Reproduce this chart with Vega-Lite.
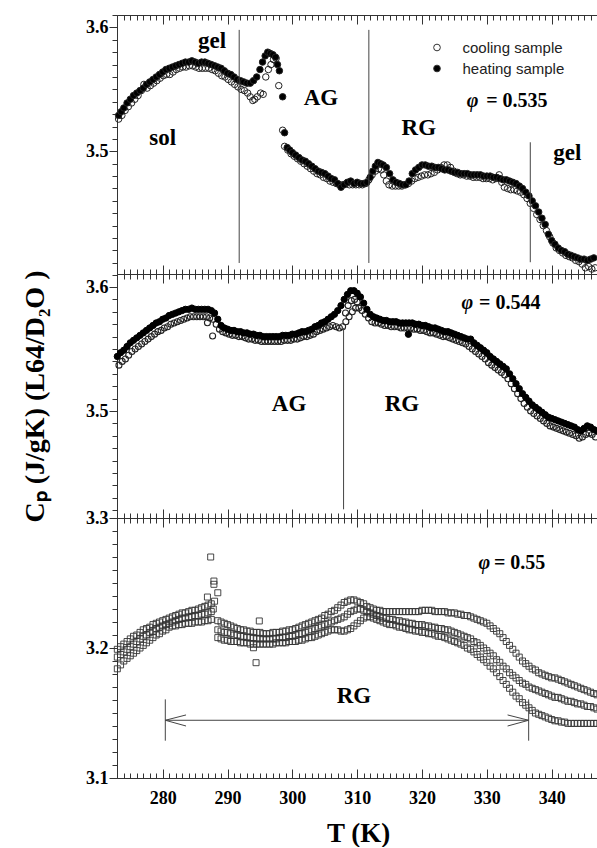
{
"$schema":"https://vega.github.io/schema/vega-lite/v6.json",
"background":"white",
"padding":{"left":20,"top":14,"right":0,"bottom":0},
"bounds":"flush",
"spacing":0,
"config":{"view":{"stroke":"#333","strokeWidth":1},"axis":{"domain":false,"grid":false,"tickColor":"#333","tickWidth":1,"labelFont":"Liberation Serif","labelFontWeight":"bold","labelFontSize":17,"labelColor":"black","titleFont":"Liberation Serif","titleFontWeight":"bold","titleColor":"black","labelOverlap":false,"labelFlush":false}},
"resolve":{"scale":{"fill":"independent"},"legend":{"fill":"independent"}},
"datasets":{
"top":[
{"s":"c","T":273.2,"v":3.526},{"s":"c","T":273.7,"v":3.529},{"s":"c","T":274.2,"v":3.533},{"s":"c","T":274.7,"v":3.536},{"s":"c","T":275.2,"v":3.539},{"s":"c","T":275.7,"v":3.542},{"s":"c","T":276.2,"v":3.545},{"s":"c","T":276.7,"v":3.549},{"s":"c","T":277.1,"v":3.554},{"s":"c","T":277.6,"v":3.551},{"s":"c","T":278.1,"v":3.553},{"s":"c","T":278.6,"v":3.555},{"s":"c","T":279.1,"v":3.557},{"s":"c","T":279.6,"v":3.559},{"s":"c","T":280.1,"v":3.561},{"s":"c","T":280.6,"v":3.562},{"s":"c","T":281.1,"v":3.562},{"s":"c","T":281.6,"v":3.564},{"s":"c","T":282.1,"v":3.566},{"s":"c","T":282.6,"v":3.567},{"s":"c","T":283.1,"v":3.568},{"s":"c","T":283.6,"v":3.568},{"s":"c","T":284.1,"v":3.569},{"s":"c","T":284.6,"v":3.569},{"s":"c","T":285.1,"v":3.568},{"s":"c","T":285.6,"v":3.567},{"s":"c","T":286.1,"v":3.567},{"s":"c","T":286.6,"v":3.567},{"s":"c","T":287.1,"v":3.567},{"s":"c","T":287.6,"v":3.566},{"s":"c","T":288.1,"v":3.565},{"s":"c","T":288.6,"v":3.563},{"s":"c","T":289.1,"v":3.561},{"s":"c","T":289.6,"v":3.56},{"s":"c","T":290.1,"v":3.558},{"s":"c","T":290.6,"v":3.556},{"s":"c","T":291.1,"v":3.554},{"s":"c","T":291.6,"v":3.552},{"s":"c","T":292.1,"v":3.55},{"s":"c","T":292.6,"v":3.549},{"s":"c","T":293.1,"v":3.547},{"s":"c","T":293.5,"v":3.544},{"s":"c","T":293.9,"v":3.541},{"s":"c","T":294.2,"v":3.542},{"s":"c","T":294.6,"v":3.544},{"s":"c","T":295.1,"v":3.547},{"s":"c","T":295.5,"v":3.546},{"s":"c","T":295.9,"v":3.56},{"s":"c","T":296.3,"v":3.566},{"s":"c","T":296.7,"v":3.57},{"s":"c","T":297.1,"v":3.574},{"s":"c","T":297.5,"v":3.575},{"s":"c","T":297.9,"v":3.553},{"s":"c","T":298.5,"v":3.517},{"s":"c","T":298.8,"v":3.504},{"s":"c","T":299.3,"v":3.501},{"s":"c","T":299.8,"v":3.498},{"s":"c","T":300.3,"v":3.496},{"s":"c","T":300.8,"v":3.494},{"s":"c","T":301.3,"v":3.492},{"s":"c","T":301.8,"v":3.49},{"s":"c","T":302.3,"v":3.488},{"s":"c","T":302.8,"v":3.486},{"s":"c","T":303.3,"v":3.484},{"s":"c","T":303.8,"v":3.482},{"s":"c","T":304.3,"v":3.481},{"s":"c","T":304.8,"v":3.479},{"s":"c","T":305.3,"v":3.478},{"s":"c","T":305.8,"v":3.476},{"s":"c","T":306.3,"v":3.475},{"s":"c","T":306.8,"v":3.474},{"s":"c","T":307.3,"v":3.473},{"s":"c","T":307.8,"v":3.473},{"s":"c","T":308.3,"v":3.474},{"s":"c","T":308.8,"v":3.473},{"s":"c","T":309.3,"v":3.473},{"s":"c","T":309.8,"v":3.473},{"s":"c","T":310.3,"v":3.473},{"s":"c","T":310.8,"v":3.473},{"s":"c","T":311.3,"v":3.474},{"s":"c","T":311.8,"v":3.477},{"s":"c","T":312.3,"v":3.481},{"s":"c","T":312.8,"v":3.484},{"s":"c","T":313.3,"v":3.486},{"s":"c","T":313.7,"v":3.485},{"s":"c","T":314.1,"v":3.481},{"s":"c","T":314.5,"v":3.476},{"s":"c","T":314.9,"v":3.473},{"s":"c","T":315.4,"v":3.472},{"s":"c","T":315.9,"v":3.472},{"s":"c","T":316.4,"v":3.472},{"s":"c","T":316.9,"v":3.472},{"s":"c","T":317.4,"v":3.473},{"s":"c","T":317.9,"v":3.474},{"s":"c","T":318.4,"v":3.476},{"s":"c","T":318.9,"v":3.478},{"s":"c","T":319.4,"v":3.479},{"s":"c","T":319.9,"v":3.48},{"s":"c","T":320.4,"v":3.481},{"s":"c","T":320.9,"v":3.481},{"s":"c","T":321.4,"v":3.482},{"s":"c","T":321.9,"v":3.483},{"s":"c","T":322.4,"v":3.485},{"s":"c","T":322.9,"v":3.487},{"s":"c","T":323.4,"v":3.489},{"s":"c","T":323.9,"v":3.489},{"s":"c","T":324.4,"v":3.487},{"s":"c","T":324.9,"v":3.484},{"s":"c","T":325.4,"v":3.482},{"s":"c","T":325.9,"v":3.481},{"s":"c","T":326.4,"v":3.481},{"s":"c","T":326.9,"v":3.48},{"s":"c","T":327.4,"v":3.48},{"s":"c","T":327.9,"v":3.479},{"s":"c","T":328.4,"v":3.479},{"s":"c","T":328.9,"v":3.479},{"s":"c","T":329.4,"v":3.478},{"s":"c","T":329.9,"v":3.478},{"s":"c","T":330.4,"v":3.478},{"s":"c","T":330.9,"v":3.477},{"s":"c","T":331.4,"v":3.478},{"s":"c","T":331.9,"v":3.481},{"s":"c","T":332.3,"v":3.475},{"s":"c","T":332.7,"v":3.471},{"s":"c","T":333.2,"v":3.47},{"s":"c","T":333.7,"v":3.469},{"s":"c","T":334.2,"v":3.469},{"s":"c","T":334.7,"v":3.468},{"s":"c","T":335.2,"v":3.467},{"s":"c","T":335.7,"v":3.465},{"s":"c","T":336.2,"v":3.462},{"s":"c","T":336.7,"v":3.458},{"s":"c","T":337.2,"v":3.454},{"s":"c","T":337.7,"v":3.449},{"s":"c","T":338.2,"v":3.445},{"s":"c","T":338.7,"v":3.44},{"s":"c","T":339.2,"v":3.436},{"s":"c","T":339.7,"v":3.431},{"s":"c","T":340.2,"v":3.426},{"s":"c","T":340.7,"v":3.422},{"s":"c","T":341.2,"v":3.42},{"s":"c","T":341.7,"v":3.418},{"s":"c","T":342.2,"v":3.416},{"s":"c","T":342.7,"v":3.415},{"s":"c","T":343.2,"v":3.414},{"s":"c","T":343.7,"v":3.412},{"s":"c","T":344.2,"v":3.411},{"s":"c","T":344.7,"v":3.409},{"s":"c","T":345.2,"v":3.406},{"s":"c","T":345.7,"v":3.407},{"s":"c","T":346.2,"v":3.405},{"s":"c","T":346.7,"v":3.406},
{"s":"h","T":273.2,"v":3.529},{"s":"h","T":273.6,"v":3.532},{"s":"h","T":274.0,"v":3.535},{"s":"h","T":274.5,"v":3.539},{"s":"h","T":275.0,"v":3.542},{"s":"h","T":275.5,"v":3.545},{"s":"h","T":276.0,"v":3.547},{"s":"h","T":276.5,"v":3.549},{"s":"h","T":277.0,"v":3.551},{"s":"h","T":277.5,"v":3.554},{"s":"h","T":278.0,"v":3.556},{"s":"h","T":278.5,"v":3.558},{"s":"h","T":279.0,"v":3.56},{"s":"h","T":279.5,"v":3.562},{"s":"h","T":280.0,"v":3.564},{"s":"h","T":280.5,"v":3.566},{"s":"h","T":281.0,"v":3.567},{"s":"h","T":281.5,"v":3.568},{"s":"h","T":282.0,"v":3.569},{"s":"h","T":282.5,"v":3.57},{"s":"h","T":283.0,"v":3.571},{"s":"h","T":283.5,"v":3.572},{"s":"h","T":284.0,"v":3.572},{"s":"h","T":284.5,"v":3.573},{"s":"h","T":285.0,"v":3.572},{"s":"h","T":285.5,"v":3.571},{"s":"h","T":286.0,"v":3.572},{"s":"h","T":286.5,"v":3.572},{"s":"h","T":287.0,"v":3.571},{"s":"h","T":287.5,"v":3.57},{"s":"h","T":288.0,"v":3.569},{"s":"h","T":288.5,"v":3.568},{"s":"h","T":289.0,"v":3.567},{"s":"h","T":289.5,"v":3.565},{"s":"h","T":290.0,"v":3.563},{"s":"h","T":290.5,"v":3.562},{"s":"h","T":291.0,"v":3.56},{"s":"h","T":291.5,"v":3.558},{"s":"h","T":292.0,"v":3.557},{"s":"h","T":292.5,"v":3.556},{"s":"h","T":293.0,"v":3.555},{"s":"h","T":293.5,"v":3.555},{"s":"h","T":294.0,"v":3.557},{"s":"h","T":294.5,"v":3.56},{"s":"h","T":295.0,"v":3.566},{"s":"h","T":295.4,"v":3.572},{"s":"h","T":295.8,"v":3.577},{"s":"h","T":296.2,"v":3.58},{"s":"h","T":296.6,"v":3.579},{"s":"h","T":297.0,"v":3.578},{"s":"h","T":297.4,"v":3.576},{"s":"h","T":297.7,"v":3.57},{"s":"h","T":298.0,"v":3.565},{"s":"h","T":298.5,"v":3.544},{"s":"h","T":298.8,"v":3.515},{"s":"h","T":299.2,"v":3.503},{"s":"h","T":299.6,"v":3.501},{"s":"h","T":300.0,"v":3.499},{"s":"h","T":300.5,"v":3.497},{"s":"h","T":301.0,"v":3.495},{"s":"h","T":301.5,"v":3.493},{"s":"h","T":302.0,"v":3.492},{"s":"h","T":302.5,"v":3.49},{"s":"h","T":303.0,"v":3.488},{"s":"h","T":303.5,"v":3.486},{"s":"h","T":304.0,"v":3.484},{"s":"h","T":304.5,"v":3.483},{"s":"h","T":305.0,"v":3.482},{"s":"h","T":305.5,"v":3.48},{"s":"h","T":306.0,"v":3.478},{"s":"h","T":306.5,"v":3.477},{"s":"h","T":307.0,"v":3.474},{"s":"h","T":307.5,"v":3.471},{"s":"h","T":308.0,"v":3.473},{"s":"h","T":308.5,"v":3.475},{"s":"h","T":309.0,"v":3.476},{"s":"h","T":309.5,"v":3.474},{"s":"h","T":310.0,"v":3.475},{"s":"h","T":310.5,"v":3.474},{"s":"h","T":311.0,"v":3.474},{"s":"h","T":311.5,"v":3.475},{"s":"h","T":312.0,"v":3.479},{"s":"h","T":312.4,"v":3.484},{"s":"h","T":312.8,"v":3.488},{"s":"h","T":313.2,"v":3.491},{"s":"h","T":313.6,"v":3.49},{"s":"h","T":314.0,"v":3.489},{"s":"h","T":314.5,"v":3.487},{"s":"h","T":315.0,"v":3.482},{"s":"h","T":315.5,"v":3.477},{"s":"h","T":316.0,"v":3.475},{"s":"h","T":316.5,"v":3.474},{"s":"h","T":317.0,"v":3.473},{"s":"h","T":317.5,"v":3.473},{"s":"h","T":318.0,"v":3.476},{"s":"h","T":318.5,"v":3.482},{"s":"h","T":319.0,"v":3.485},{"s":"h","T":319.5,"v":3.487},{"s":"h","T":320.0,"v":3.489},{"s":"h","T":320.5,"v":3.489},{"s":"h","T":321.0,"v":3.488},{"s":"h","T":321.5,"v":3.488},{"s":"h","T":322.0,"v":3.487},{"s":"h","T":322.5,"v":3.487},{"s":"h","T":323.0,"v":3.486},{"s":"h","T":323.5,"v":3.485},{"s":"h","T":324.0,"v":3.485},{"s":"h","T":324.5,"v":3.484},{"s":"h","T":325.0,"v":3.483},{"s":"h","T":325.5,"v":3.483},{"s":"h","T":326.0,"v":3.482},{"s":"h","T":326.5,"v":3.482},{"s":"h","T":327.0,"v":3.482},{"s":"h","T":327.5,"v":3.481},{"s":"h","T":328.0,"v":3.481},{"s":"h","T":328.5,"v":3.481},{"s":"h","T":329.0,"v":3.481},{"s":"h","T":329.5,"v":3.48},{"s":"h","T":330.0,"v":3.48},{"s":"h","T":330.5,"v":3.48},{"s":"h","T":331.0,"v":3.479},{"s":"h","T":331.5,"v":3.479},{"s":"h","T":332.0,"v":3.478},{"s":"h","T":332.5,"v":3.477},{"s":"h","T":333.0,"v":3.477},{"s":"h","T":333.5,"v":3.476},{"s":"h","T":334.0,"v":3.475},{"s":"h","T":334.5,"v":3.474},{"s":"h","T":335.0,"v":3.472},{"s":"h","T":335.5,"v":3.47},{"s":"h","T":336.0,"v":3.467},{"s":"h","T":336.5,"v":3.464},{"s":"h","T":337.0,"v":3.46},{"s":"h","T":337.5,"v":3.456},{"s":"h","T":338.0,"v":3.451},{"s":"h","T":338.5,"v":3.446},{"s":"h","T":339.0,"v":3.441},{"s":"h","T":339.5,"v":3.433},{"s":"h","T":340.0,"v":3.428},{"s":"h","T":340.5,"v":3.425},{"s":"h","T":341.0,"v":3.422},{"s":"h","T":341.5,"v":3.42},{"s":"h","T":342.0,"v":3.419},{"s":"h","T":342.5,"v":3.417},{"s":"h","T":343.0,"v":3.416},{"s":"h","T":343.5,"v":3.415},{"s":"h","T":344.0,"v":3.414},{"s":"h","T":344.5,"v":3.413},{"s":"h","T":345.0,"v":3.413},{"s":"h","T":345.5,"v":3.412},{"s":"h","T":346.0,"v":3.413},{"s":"h","T":346.5,"v":3.414}
],
"mid":[
{"s":"c","T":273.25,"v":3.537},{"s":"c","T":273.75,"v":3.54},{"s":"c","T":274.25,"v":3.542},{"s":"c","T":274.75,"v":3.545},{"s":"c","T":275.25,"v":3.548},{"s":"c","T":275.75,"v":3.55},{"s":"c","T":276.25,"v":3.552},{"s":"c","T":276.75,"v":3.554},{"s":"c","T":277.25,"v":3.556},{"s":"c","T":277.75,"v":3.558},{"s":"c","T":278.25,"v":3.56},{"s":"c","T":278.75,"v":3.562},{"s":"c","T":279.25,"v":3.564},{"s":"c","T":279.75,"v":3.565},{"s":"c","T":280.25,"v":3.567},{"s":"c","T":280.75,"v":3.568},{"s":"c","T":281.25,"v":3.57},{"s":"c","T":281.75,"v":3.571},{"s":"c","T":282.25,"v":3.572},{"s":"c","T":282.75,"v":3.573},{"s":"c","T":283.25,"v":3.574},{"s":"c","T":283.75,"v":3.575},{"s":"c","T":284.25,"v":3.576},{"s":"c","T":284.75,"v":3.576},{"s":"c","T":285.25,"v":3.576},{"s":"c","T":285.75,"v":3.576},{"s":"c","T":286.25,"v":3.576},{"s":"c","T":286.75,"v":3.576},{"s":"c","T":286.9,"v":3.5712},{"s":"c","T":287.25,"v":3.575},{"s":"c","T":287.7,"v":3.5605},{"s":"c","T":287.75,"v":3.574},{"s":"c","T":288.25,"v":3.57},{"s":"c","T":288.75,"v":3.566},{"s":"c","T":289.25,"v":3.564},{"s":"c","T":289.75,"v":3.563},{"s":"c","T":290.25,"v":3.562},{"s":"c","T":290.75,"v":3.561},{"s":"c","T":291.25,"v":3.561},{"s":"c","T":291.75,"v":3.56},{"s":"c","T":292.25,"v":3.56},{"s":"c","T":292.75,"v":3.559},{"s":"c","T":293.25,"v":3.558},{"s":"c","T":293.75,"v":3.558},{"s":"c","T":294.25,"v":3.557},{"s":"c","T":294.75,"v":3.557},{"s":"c","T":295.25,"v":3.556},{"s":"c","T":295.75,"v":3.556},{"s":"c","T":296.25,"v":3.556},{"s":"c","T":296.75,"v":3.556},{"s":"c","T":297.25,"v":3.556},{"s":"c","T":297.75,"v":3.556},{"s":"c","T":298.25,"v":3.556},{"s":"c","T":298.75,"v":3.557},{"s":"c","T":299.25,"v":3.557},{"s":"c","T":299.75,"v":3.557},{"s":"c","T":300.25,"v":3.558},{"s":"c","T":300.75,"v":3.558},{"s":"c","T":301.25,"v":3.559},{"s":"c","T":301.75,"v":3.56},{"s":"c","T":302.25,"v":3.56},{"s":"c","T":302.75,"v":3.561},{"s":"c","T":303.25,"v":3.562},{"s":"c","T":303.75,"v":3.564},{"s":"c","T":304.25,"v":3.565},{"s":"c","T":304.75,"v":3.566},{"s":"c","T":305.25,"v":3.567},{"s":"c","T":305.75,"v":3.568},{"s":"c","T":306.25,"v":3.569},{"s":"c","T":306.75,"v":3.568},{"s":"c","T":307.25,"v":3.567},{"s":"c","T":307.75,"v":3.568},{"s":"c","T":308.25,"v":3.572},{"s":"c","T":308.75,"v":3.576},{"s":"c","T":309.25,"v":3.58},{"s":"c","T":309.75,"v":3.583},{"s":"c","T":310.25,"v":3.583},{"s":"c","T":310.75,"v":3.581},{"s":"c","T":311.25,"v":3.578},{"s":"c","T":311.75,"v":3.575},{"s":"c","T":312.25,"v":3.572},{"s":"c","T":308.2,"v":3.579},{"s":"c","T":308.6,"v":3.585},{"s":"c","T":309.1,"v":3.589},{"s":"c","T":309.6,"v":3.59},{"s":"c","T":310.0,"v":3.588},{"s":"c","T":312.75,"v":3.571},{"s":"c","T":313.25,"v":3.571},{"s":"c","T":313.75,"v":3.57},{"s":"c","T":314.25,"v":3.569},{"s":"c","T":314.75,"v":3.569},{"s":"c","T":315.25,"v":3.568},{"s":"c","T":315.75,"v":3.568},{"s":"c","T":316.25,"v":3.568},{"s":"c","T":316.75,"v":3.567},{"s":"c","T":317.25,"v":3.567},{"s":"c","T":317.75,"v":3.567},{"s":"c","T":318.25,"v":3.567},{"s":"c","T":318.75,"v":3.566},{"s":"c","T":319.25,"v":3.566},{"s":"c","T":319.75,"v":3.565},{"s":"c","T":320.25,"v":3.565},{"s":"c","T":320.75,"v":3.564},{"s":"c","T":321.25,"v":3.563},{"s":"c","T":321.75,"v":3.563},{"s":"c","T":322.25,"v":3.562},{"s":"c","T":322.75,"v":3.561},{"s":"c","T":323.25,"v":3.56},{"s":"c","T":323.75,"v":3.56},{"s":"c","T":324.25,"v":3.559},{"s":"c","T":324.75,"v":3.558},{"s":"c","T":325.25,"v":3.557},{"s":"c","T":325.75,"v":3.556},{"s":"c","T":326.25,"v":3.555},{"s":"c","T":326.75,"v":3.554},{"s":"c","T":327.25,"v":3.552},{"s":"c","T":327.75,"v":3.55},{"s":"c","T":328.25,"v":3.548},{"s":"c","T":328.75,"v":3.546},{"s":"c","T":329.25,"v":3.544},{"s":"c","T":329.75,"v":3.542},{"s":"c","T":330.25,"v":3.539},{"s":"c","T":330.75,"v":3.537},{"s":"c","T":331.25,"v":3.535},{"s":"c","T":331.75,"v":3.533},{"s":"c","T":332.25,"v":3.531},{"s":"c","T":332.75,"v":3.529},{"s":"c","T":333.25,"v":3.526},{"s":"c","T":333.75,"v":3.522},{"s":"c","T":334.25,"v":3.518},{"s":"c","T":334.75,"v":3.514},{"s":"c","T":335.25,"v":3.51},{"s":"c","T":335.75,"v":3.506},{"s":"c","T":336.25,"v":3.503},{"s":"c","T":336.75,"v":3.5},{"s":"c","T":337.25,"v":3.498},{"s":"c","T":337.75,"v":3.496},{"s":"c","T":338.25,"v":3.494},{"s":"c","T":338.75,"v":3.492},{"s":"c","T":339.25,"v":3.49},{"s":"c","T":339.75,"v":3.488},{"s":"c","T":340.25,"v":3.487},{"s":"c","T":340.75,"v":3.486},{"s":"c","T":341.25,"v":3.485},{"s":"c","T":341.75,"v":3.484},{"s":"c","T":342.25,"v":3.483},{"s":"c","T":342.75,"v":3.482},{"s":"c","T":343.25,"v":3.481},{"s":"c","T":343.75,"v":3.48},{"s":"c","T":344.25,"v":3.478},{"s":"c","T":344.75,"v":3.479},{"s":"c","T":345.25,"v":3.481},{"s":"c","T":345.75,"v":3.482},{"s":"c","T":346.25,"v":3.481},{"s":"c","T":346.75,"v":3.479},
{"s":"h","T":273.0,"v":3.544},{"s":"h","T":273.5,"v":3.547},{"s":"h","T":274.0,"v":3.549},{"s":"h","T":274.5,"v":3.552},{"s":"h","T":275.0,"v":3.555},{"s":"h","T":275.5,"v":3.557},{"s":"h","T":276.0,"v":3.559},{"s":"h","T":276.5,"v":3.561},{"s":"h","T":277.0,"v":3.563},{"s":"h","T":277.5,"v":3.565},{"s":"h","T":278.0,"v":3.567},{"s":"h","T":278.5,"v":3.569},{"s":"h","T":279.0,"v":3.571},{"s":"h","T":279.5,"v":3.572},{"s":"h","T":280.0,"v":3.574},{"s":"h","T":280.5,"v":3.575},{"s":"h","T":281.0,"v":3.577},{"s":"h","T":281.5,"v":3.578},{"s":"h","T":282.0,"v":3.579},{"s":"h","T":282.5,"v":3.58},{"s":"h","T":283.0,"v":3.581},{"s":"h","T":283.5,"v":3.582},{"s":"h","T":284.0,"v":3.582},{"s":"h","T":284.5,"v":3.583},{"s":"h","T":285.0,"v":3.582},{"s":"h","T":285.5,"v":3.582},{"s":"h","T":286.0,"v":3.582},{"s":"h","T":286.5,"v":3.582},{"s":"h","T":287.0,"v":3.582},{"s":"h","T":287.5,"v":3.581},{"s":"h","T":288.0,"v":3.579},{"s":"h","T":288.5,"v":3.574},{"s":"h","T":289.0,"v":3.569},{"s":"h","T":289.5,"v":3.567},{"s":"h","T":290.0,"v":3.566},{"s":"h","T":290.5,"v":3.565},{"s":"h","T":291.0,"v":3.565},{"s":"h","T":291.5,"v":3.564},{"s":"h","T":292.0,"v":3.564},{"s":"h","T":292.5,"v":3.563},{"s":"h","T":293.0,"v":3.563},{"s":"h","T":293.5,"v":3.562},{"s":"h","T":294.0,"v":3.562},{"s":"h","T":294.5,"v":3.561},{"s":"h","T":295.0,"v":3.561},{"s":"h","T":295.5,"v":3.56},{"s":"h","T":296.0,"v":3.56},{"s":"h","T":296.5,"v":3.56},{"s":"h","T":297.0,"v":3.56},{"s":"h","T":297.5,"v":3.56},{"s":"h","T":298.0,"v":3.56},{"s":"h","T":298.5,"v":3.561},{"s":"h","T":299.0,"v":3.561},{"s":"h","T":299.5,"v":3.561},{"s":"h","T":300.0,"v":3.562},{"s":"h","T":300.5,"v":3.562},{"s":"h","T":301.0,"v":3.563},{"s":"h","T":301.5,"v":3.564},{"s":"h","T":302.0,"v":3.564},{"s":"h","T":302.5,"v":3.565},{"s":"h","T":303.0,"v":3.566},{"s":"h","T":303.5,"v":3.568},{"s":"h","T":304.0,"v":3.569},{"s":"h","T":304.5,"v":3.571},{"s":"h","T":305.0,"v":3.572},{"s":"h","T":305.5,"v":3.574},{"s":"h","T":306.0,"v":3.576},{"s":"h","T":306.5,"v":3.578},{"s":"h","T":307.0,"v":3.581},{"s":"h","T":307.5,"v":3.585},{"s":"h","T":308.0,"v":3.59},{"s":"h","T":308.5,"v":3.594},{"s":"h","T":309.0,"v":3.597},{"s":"h","T":309.5,"v":3.597},{"s":"h","T":310.0,"v":3.595},{"s":"h","T":310.5,"v":3.592},{"s":"h","T":311.0,"v":3.587},{"s":"h","T":311.5,"v":3.582},{"s":"h","T":312.0,"v":3.578},{"s":"h","T":312.5,"v":3.576},{"s":"h","T":313.0,"v":3.575},{"s":"h","T":313.5,"v":3.574},{"s":"h","T":314.0,"v":3.573},{"s":"h","T":314.5,"v":3.573},{"s":"h","T":315.0,"v":3.572},{"s":"h","T":315.5,"v":3.572},{"s":"h","T":316.0,"v":3.572},{"s":"h","T":316.5,"v":3.571},{"s":"h","T":317.0,"v":3.571},{"s":"h","T":317.5,"v":3.571},{"s":"h","T":317.9,"v":3.5619},{"s":"h","T":318.0,"v":3.571},{"s":"h","T":318.5,"v":3.571},{"s":"h","T":319.0,"v":3.57},{"s":"h","T":319.5,"v":3.57},{"s":"h","T":320.0,"v":3.569},{"s":"h","T":320.5,"v":3.569},{"s":"h","T":321.0,"v":3.568},{"s":"h","T":321.5,"v":3.567},{"s":"h","T":322.0,"v":3.567},{"s":"h","T":322.5,"v":3.566},{"s":"h","T":323.0,"v":3.565},{"s":"h","T":323.5,"v":3.564},{"s":"h","T":324.0,"v":3.564},{"s":"h","T":324.5,"v":3.563},{"s":"h","T":325.0,"v":3.562},{"s":"h","T":325.5,"v":3.561},{"s":"h","T":326.0,"v":3.56},{"s":"h","T":326.5,"v":3.559},{"s":"h","T":327.0,"v":3.558},{"s":"h","T":327.5,"v":3.558},{"s":"h","T":328.0,"v":3.555},{"s":"h","T":328.5,"v":3.553},{"s":"h","T":329.0,"v":3.551},{"s":"h","T":329.5,"v":3.549},{"s":"h","T":330.0,"v":3.547},{"s":"h","T":330.5,"v":3.544},{"s":"h","T":331.0,"v":3.542},{"s":"h","T":331.5,"v":3.54},{"s":"h","T":332.0,"v":3.538},{"s":"h","T":332.5,"v":3.536},{"s":"h","T":333.0,"v":3.534},{"s":"h","T":333.5,"v":3.53},{"s":"h","T":334.0,"v":3.526},{"s":"h","T":334.5,"v":3.522},{"s":"h","T":335.0,"v":3.518},{"s":"h","T":335.5,"v":3.514},{"s":"h","T":336.0,"v":3.511},{"s":"h","T":336.5,"v":3.508},{"s":"h","T":337.0,"v":3.505},{"s":"h","T":337.5,"v":3.503},{"s":"h","T":338.0,"v":3.501},{"s":"h","T":338.5,"v":3.499},{"s":"h","T":339.0,"v":3.497},{"s":"h","T":339.5,"v":3.495},{"s":"h","T":340.0,"v":3.494},{"s":"h","T":340.5,"v":3.493},{"s":"h","T":341.0,"v":3.492},{"s":"h","T":341.5,"v":3.491},{"s":"h","T":342.0,"v":3.49},{"s":"h","T":342.5,"v":3.489},{"s":"h","T":343.0,"v":3.488},{"s":"h","T":343.5,"v":3.487},{"s":"h","T":344.0,"v":3.485},{"s":"h","T":344.5,"v":3.484},{"s":"h","T":345.0,"v":3.486},{"s":"h","T":345.5,"v":3.488},{"s":"h","T":346.0,"v":3.487},{"s":"h","T":346.5,"v":3.485},{"s":"h","T":347.0,"v":3.484}
],
"bot":[
{"r":"A","T":273.0,"v":3.199},{"r":"A","T":273.5,"v":3.201},{"r":"A","T":274.0,"v":3.203},{"r":"A","T":274.5,"v":3.205},{"r":"A","T":275.0,"v":3.207},{"r":"A","T":275.5,"v":3.209},{"r":"A","T":276.0,"v":3.21},{"r":"A","T":276.5,"v":3.212},{"r":"A","T":277.0,"v":3.214},{"r":"A","T":277.5,"v":3.215},{"r":"A","T":278.0,"v":3.216},{"r":"A","T":278.5,"v":3.218},{"r":"A","T":279.0,"v":3.219},{"r":"A","T":279.5,"v":3.22},{"r":"A","T":280.0,"v":3.221},{"r":"A","T":280.5,"v":3.222},{"r":"A","T":281.0,"v":3.223},{"r":"A","T":281.5,"v":3.224},{"r":"A","T":282.0,"v":3.225},{"r":"A","T":282.5,"v":3.226},{"r":"A","T":283.0,"v":3.227},{"r":"A","T":283.5,"v":3.227},{"r":"A","T":284.0,"v":3.228},{"r":"A","T":284.5,"v":3.229},{"r":"A","T":285.0,"v":3.229},{"r":"A","T":285.5,"v":3.23},{"r":"A","T":286.0,"v":3.231},{"r":"A","T":286.5,"v":3.232},{"r":"A","T":287.0,"v":3.233},{"r":"A","T":287.5,"v":3.234},{"r":"A","T":288.5,"v":3.221},{"r":"A","T":289.0,"v":3.22},{"r":"A","T":289.5,"v":3.219},{"r":"A","T":290.0,"v":3.218},{"r":"A","T":290.5,"v":3.217},{"r":"A","T":291.0,"v":3.216},{"r":"A","T":291.5,"v":3.215},{"r":"A","T":292.0,"v":3.214},{"r":"A","T":292.5,"v":3.214},{"r":"A","T":293.0,"v":3.213},{"r":"A","T":293.5,"v":3.213},{"r":"A","T":294.0,"v":3.212},{"r":"A","T":294.5,"v":3.212},{"r":"A","T":295.0,"v":3.212},{"r":"A","T":295.5,"v":3.211},{"r":"A","T":296.0,"v":3.211},{"r":"A","T":296.5,"v":3.211},{"r":"A","T":297.0,"v":3.212},{"r":"A","T":297.5,"v":3.212},{"r":"A","T":298.0,"v":3.212},{"r":"A","T":298.5,"v":3.213},{"r":"A","T":299.0,"v":3.213},{"r":"A","T":299.5,"v":3.214},{"r":"A","T":300.0,"v":3.214},{"r":"A","T":300.5,"v":3.215},{"r":"A","T":301.0,"v":3.216},{"r":"A","T":301.5,"v":3.217},{"r":"A","T":302.0,"v":3.218},{"r":"A","T":302.5,"v":3.219},{"r":"A","T":303.0,"v":3.22},{"r":"A","T":303.5,"v":3.221},{"r":"A","T":304.0,"v":3.222},{"r":"A","T":304.5,"v":3.223},{"r":"A","T":305.0,"v":3.225},{"r":"A","T":305.5,"v":3.226},{"r":"A","T":306.0,"v":3.228},{"r":"A","T":306.5,"v":3.229},{"r":"A","T":307.0,"v":3.231},{"r":"A","T":307.5,"v":3.233},{"r":"A","T":308.0,"v":3.235},{"r":"A","T":308.5,"v":3.236},{"r":"A","T":309.0,"v":3.237},{"r":"A","T":309.5,"v":3.237},{"r":"A","T":310.0,"v":3.236},{"r":"A","T":310.5,"v":3.235},{"r":"A","T":311.0,"v":3.234},{"r":"A","T":311.5,"v":3.232},{"r":"A","T":312.0,"v":3.231},{"r":"A","T":312.5,"v":3.23},{"r":"A","T":313.0,"v":3.229},{"r":"A","T":313.5,"v":3.229},{"r":"A","T":314.0,"v":3.228},{"r":"A","T":314.5,"v":3.228},{"r":"A","T":315.0,"v":3.228},{"r":"A","T":315.5,"v":3.228},{"r":"A","T":316.0,"v":3.228},{"r":"A","T":316.5,"v":3.228},{"r":"A","T":317.0,"v":3.228},{"r":"A","T":317.5,"v":3.228},{"r":"A","T":318.0,"v":3.228},{"r":"A","T":318.5,"v":3.228},{"r":"A","T":319.0,"v":3.228},{"r":"A","T":319.5,"v":3.228},{"r":"A","T":320.0,"v":3.229},{"r":"A","T":320.5,"v":3.229},{"r":"A","T":321.0,"v":3.229},{"r":"A","T":321.5,"v":3.229},{"r":"A","T":322.0,"v":3.228},{"r":"A","T":322.5,"v":3.228},{"r":"A","T":323.0,"v":3.228},{"r":"A","T":323.5,"v":3.228},{"r":"A","T":324.0,"v":3.227},{"r":"A","T":324.5,"v":3.227},{"r":"A","T":325.0,"v":3.227},{"r":"A","T":325.5,"v":3.226},{"r":"A","T":326.0,"v":3.226},{"r":"A","T":326.5,"v":3.225},{"r":"A","T":327.0,"v":3.225},{"r":"A","T":327.5,"v":3.224},{"r":"A","T":328.0,"v":3.223},{"r":"A","T":328.5,"v":3.222},{"r":"A","T":329.0,"v":3.221},{"r":"A","T":329.5,"v":3.22},{"r":"A","T":330.0,"v":3.219},{"r":"A","T":330.5,"v":3.217},{"r":"A","T":331.0,"v":3.215},{"r":"A","T":331.5,"v":3.213},{"r":"A","T":332.0,"v":3.211},{"r":"A","T":332.5,"v":3.208},{"r":"A","T":333.0,"v":3.205},{"r":"A","T":333.5,"v":3.202},{"r":"A","T":334.0,"v":3.199},{"r":"A","T":334.5,"v":3.196},{"r":"A","T":335.0,"v":3.193},{"r":"A","T":335.5,"v":3.19},{"r":"A","T":336.0,"v":3.188},{"r":"A","T":336.5,"v":3.186},{"r":"A","T":337.0,"v":3.184},{"r":"A","T":337.5,"v":3.183},{"r":"A","T":338.0,"v":3.181},{"r":"A","T":338.5,"v":3.18},{"r":"A","T":339.0,"v":3.179},{"r":"A","T":339.5,"v":3.178},{"r":"A","T":340.0,"v":3.177},{"r":"A","T":340.5,"v":3.177},{"r":"A","T":341.0,"v":3.176},{"r":"A","T":341.5,"v":3.175},{"r":"A","T":342.0,"v":3.174},{"r":"A","T":342.5,"v":3.173},{"r":"A","T":343.0,"v":3.172},{"r":"A","T":343.5,"v":3.171},{"r":"A","T":344.0,"v":3.17},{"r":"A","T":344.5,"v":3.169},{"r":"A","T":345.0,"v":3.168},{"r":"A","T":345.5,"v":3.167},{"r":"A","T":346.0,"v":3.166},{"r":"A","T":346.5,"v":3.165},{"r":"A","T":347.0,"v":3.164},
{"r":"B","T":273.0,"v":3.193},{"r":"B","T":273.5,"v":3.195},{"r":"B","T":274.0,"v":3.197},{"r":"B","T":274.5,"v":3.199},{"r":"B","T":275.0,"v":3.201},{"r":"B","T":275.5,"v":3.203},{"r":"B","T":276.0,"v":3.205},{"r":"B","T":276.5,"v":3.207},{"r":"B","T":277.0,"v":3.209},{"r":"B","T":277.5,"v":3.21},{"r":"B","T":278.0,"v":3.212},{"r":"B","T":278.5,"v":3.213},{"r":"B","T":279.0,"v":3.215},{"r":"B","T":279.5,"v":3.216},{"r":"B","T":280.0,"v":3.217},{"r":"B","T":280.5,"v":3.218},{"r":"B","T":281.0,"v":3.219},{"r":"B","T":281.5,"v":3.22},{"r":"B","T":282.0,"v":3.221},{"r":"B","T":282.5,"v":3.222},{"r":"B","T":283.0,"v":3.223},{"r":"B","T":283.5,"v":3.223},{"r":"B","T":284.0,"v":3.224},{"r":"B","T":284.5,"v":3.224},{"r":"B","T":285.0,"v":3.225},{"r":"B","T":285.5,"v":3.225},{"r":"B","T":286.0,"v":3.226},{"r":"B","T":286.5,"v":3.226},{"r":"B","T":287.0,"v":3.227},{"r":"B","T":287.5,"v":3.228},{"r":"B","T":288.5,"v":3.214},{"r":"B","T":289.0,"v":3.213},{"r":"B","T":289.5,"v":3.212},{"r":"B","T":290.0,"v":3.212},{"r":"B","T":290.5,"v":3.211},{"r":"B","T":291.0,"v":3.21},{"r":"B","T":291.5,"v":3.21},{"r":"B","T":292.0,"v":3.209},{"r":"B","T":292.5,"v":3.209},{"r":"B","T":293.0,"v":3.208},{"r":"B","T":293.5,"v":3.208},{"r":"B","T":294.0,"v":3.208},{"r":"B","T":294.5,"v":3.207},{"r":"B","T":295.0,"v":3.207},{"r":"B","T":295.5,"v":3.207},{"r":"B","T":296.0,"v":3.207},{"r":"B","T":296.5,"v":3.207},{"r":"B","T":297.0,"v":3.207},{"r":"B","T":297.5,"v":3.207},{"r":"B","T":298.0,"v":3.208},{"r":"B","T":298.5,"v":3.208},{"r":"B","T":299.0,"v":3.208},{"r":"B","T":299.5,"v":3.209},{"r":"B","T":300.0,"v":3.209},{"r":"B","T":300.5,"v":3.21},{"r":"B","T":301.0,"v":3.211},{"r":"B","T":301.5,"v":3.211},{"r":"B","T":302.0,"v":3.212},{"r":"B","T":302.5,"v":3.213},{"r":"B","T":303.0,"v":3.214},{"r":"B","T":303.5,"v":3.215},{"r":"B","T":304.0,"v":3.216},{"r":"B","T":304.5,"v":3.217},{"r":"B","T":305.0,"v":3.218},{"r":"B","T":305.5,"v":3.219},{"r":"B","T":306.0,"v":3.22},{"r":"B","T":306.5,"v":3.221},{"r":"B","T":307.0,"v":3.222},{"r":"B","T":307.5,"v":3.223},{"r":"B","T":308.0,"v":3.224},{"r":"B","T":308.5,"v":3.226},{"r":"B","T":309.0,"v":3.228},{"r":"B","T":309.5,"v":3.229},{"r":"B","T":310.0,"v":3.23},{"r":"B","T":310.5,"v":3.23},{"r":"B","T":311.0,"v":3.229},{"r":"B","T":311.5,"v":3.228},{"r":"B","T":312.0,"v":3.227},{"r":"B","T":312.5,"v":3.226},{"r":"B","T":313.0,"v":3.225},{"r":"B","T":313.5,"v":3.224},{"r":"B","T":314.0,"v":3.223},{"r":"B","T":314.5,"v":3.223},{"r":"B","T":315.0,"v":3.222},{"r":"B","T":315.5,"v":3.222},{"r":"B","T":316.0,"v":3.221},{"r":"B","T":316.5,"v":3.221},{"r":"B","T":317.0,"v":3.22},{"r":"B","T":317.5,"v":3.22},{"r":"B","T":318.0,"v":3.219},{"r":"B","T":318.5,"v":3.219},{"r":"B","T":319.0,"v":3.218},{"r":"B","T":319.5,"v":3.218},{"r":"B","T":320.0,"v":3.218},{"r":"B","T":320.5,"v":3.217},{"r":"B","T":321.0,"v":3.217},{"r":"B","T":321.5,"v":3.216},{"r":"B","T":322.0,"v":3.216},{"r":"B","T":322.5,"v":3.215},{"r":"B","T":323.0,"v":3.215},{"r":"B","T":323.5,"v":3.214},{"r":"B","T":324.0,"v":3.214},{"r":"B","T":324.5,"v":3.213},{"r":"B","T":325.0,"v":3.212},{"r":"B","T":325.5,"v":3.211},{"r":"B","T":326.0,"v":3.21},{"r":"B","T":326.5,"v":3.209},{"r":"B","T":327.0,"v":3.208},{"r":"B","T":327.5,"v":3.207},{"r":"B","T":328.0,"v":3.205},{"r":"B","T":328.5,"v":3.204},{"r":"B","T":329.0,"v":3.202},{"r":"B","T":329.5,"v":3.2},{"r":"B","T":330.0,"v":3.198},{"r":"B","T":330.5,"v":3.196},{"r":"B","T":331.0,"v":3.194},{"r":"B","T":331.5,"v":3.191},{"r":"B","T":332.0,"v":3.189},{"r":"B","T":332.5,"v":3.186},{"r":"B","T":333.0,"v":3.184},{"r":"B","T":333.5,"v":3.181},{"r":"B","T":334.0,"v":3.179},{"r":"B","T":334.5,"v":3.177},{"r":"B","T":335.0,"v":3.175},{"r":"B","T":335.5,"v":3.173},{"r":"B","T":336.0,"v":3.172},{"r":"B","T":336.5,"v":3.17},{"r":"B","T":337.0,"v":3.169},{"r":"B","T":337.5,"v":3.168},{"r":"B","T":338.0,"v":3.167},{"r":"B","T":338.5,"v":3.166},{"r":"B","T":339.0,"v":3.165},{"r":"B","T":339.5,"v":3.164},{"r":"B","T":340.0,"v":3.163},{"r":"B","T":340.5,"v":3.162},{"r":"B","T":341.0,"v":3.162},{"r":"B","T":341.5,"v":3.161},{"r":"B","T":342.0,"v":3.16},{"r":"B","T":342.5,"v":3.159},{"r":"B","T":343.0,"v":3.159},{"r":"B","T":343.5,"v":3.158},{"r":"B","T":344.0,"v":3.157},{"r":"B","T":344.5,"v":3.157},{"r":"B","T":345.0,"v":3.156},{"r":"B","T":345.5,"v":3.155},{"r":"B","T":346.0,"v":3.155},{"r":"B","T":346.5,"v":3.154},{"r":"B","T":347.0,"v":3.153},
{"r":"C","T":273.0,"v":3.184},{"r":"C","T":273.5,"v":3.187},{"r":"C","T":274.0,"v":3.19},{"r":"C","T":274.5,"v":3.192},{"r":"C","T":275.0,"v":3.194},{"r":"C","T":275.5,"v":3.196},{"r":"C","T":276.0,"v":3.198},{"r":"C","T":276.5,"v":3.2},{"r":"C","T":277.0,"v":3.202},{"r":"C","T":277.5,"v":3.204},{"r":"C","T":278.0,"v":3.206},{"r":"C","T":278.5,"v":3.208},{"r":"C","T":279.0,"v":3.21},{"r":"C","T":279.5,"v":3.211},{"r":"C","T":280.0,"v":3.213},{"r":"C","T":280.5,"v":3.214},{"r":"C","T":281.0,"v":3.216},{"r":"C","T":281.5,"v":3.217},{"r":"C","T":282.0,"v":3.217},{"r":"C","T":282.5,"v":3.218},{"r":"C","T":283.0,"v":3.218},{"r":"C","T":283.5,"v":3.219},{"r":"C","T":284.0,"v":3.219},{"r":"C","T":284.5,"v":3.219},{"r":"C","T":285.0,"v":3.22},{"r":"C","T":285.5,"v":3.22},{"r":"C","T":286.0,"v":3.22},{"r":"C","T":286.5,"v":3.221},{"r":"C","T":287.0,"v":3.221},{"r":"C","T":287.5,"v":3.222},{"r":"C","T":288.5,"v":3.208},{"r":"C","T":289.0,"v":3.207},{"r":"C","T":289.5,"v":3.206},{"r":"C","T":290.0,"v":3.206},{"r":"C","T":290.5,"v":3.205},{"r":"C","T":291.0,"v":3.205},{"r":"C","T":291.5,"v":3.205},{"r":"C","T":292.0,"v":3.204},{"r":"C","T":292.5,"v":3.204},{"r":"C","T":293.0,"v":3.204},{"r":"C","T":293.5,"v":3.203},{"r":"C","T":294.0,"v":3.203},{"r":"C","T":294.5,"v":3.203},{"r":"C","T":295.0,"v":3.203},{"r":"C","T":295.5,"v":3.203},{"r":"C","T":296.0,"v":3.203},{"r":"C","T":296.5,"v":3.203},{"r":"C","T":297.0,"v":3.203},{"r":"C","T":297.5,"v":3.204},{"r":"C","T":298.0,"v":3.204},{"r":"C","T":298.5,"v":3.204},{"r":"C","T":299.0,"v":3.204},{"r":"C","T":299.5,"v":3.205},{"r":"C","T":300.0,"v":3.205},{"r":"C","T":300.5,"v":3.205},{"r":"C","T":301.0,"v":3.206},{"r":"C","T":301.5,"v":3.206},{"r":"C","T":302.0,"v":3.207},{"r":"C","T":302.5,"v":3.208},{"r":"C","T":303.0,"v":3.208},{"r":"C","T":303.5,"v":3.209},{"r":"C","T":304.0,"v":3.21},{"r":"C","T":304.5,"v":3.211},{"r":"C","T":305.0,"v":3.212},{"r":"C","T":305.5,"v":3.213},{"r":"C","T":306.0,"v":3.214},{"r":"C","T":306.5,"v":3.214},{"r":"C","T":307.0,"v":3.214},{"r":"C","T":307.5,"v":3.213},{"r":"C","T":308.0,"v":3.213},{"r":"C","T":308.5,"v":3.214},{"r":"C","T":309.0,"v":3.215},{"r":"C","T":309.5,"v":3.217},{"r":"C","T":310.0,"v":3.219},{"r":"C","T":310.5,"v":3.221},{"r":"C","T":311.0,"v":3.223},{"r":"C","T":311.5,"v":3.224},{"r":"C","T":312.0,"v":3.224},{"r":"C","T":312.5,"v":3.223},{"r":"C","T":313.0,"v":3.222},{"r":"C","T":313.5,"v":3.221},{"r":"C","T":314.0,"v":3.22},{"r":"C","T":314.5,"v":3.219},{"r":"C","T":315.0,"v":3.218},{"r":"C","T":315.5,"v":3.218},{"r":"C","T":316.0,"v":3.217},{"r":"C","T":316.5,"v":3.216},{"r":"C","T":317.0,"v":3.216},{"r":"C","T":317.5,"v":3.215},{"r":"C","T":318.0,"v":3.214},{"r":"C","T":318.5,"v":3.214},{"r":"C","T":319.0,"v":3.213},{"r":"C","T":319.5,"v":3.213},{"r":"C","T":320.0,"v":3.212},{"r":"C","T":320.5,"v":3.212},{"r":"C","T":321.0,"v":3.211},{"r":"C","T":321.5,"v":3.211},{"r":"C","T":322.0,"v":3.21},{"r":"C","T":322.5,"v":3.209},{"r":"C","T":323.0,"v":3.209},{"r":"C","T":323.5,"v":3.208},{"r":"C","T":324.0,"v":3.207},{"r":"C","T":324.5,"v":3.206},{"r":"C","T":325.0,"v":3.205},{"r":"C","T":325.5,"v":3.204},{"r":"C","T":326.0,"v":3.203},{"r":"C","T":326.5,"v":3.202},{"r":"C","T":327.0,"v":3.2},{"r":"C","T":327.5,"v":3.199},{"r":"C","T":328.0,"v":3.197},{"r":"C","T":328.5,"v":3.195},{"r":"C","T":329.0,"v":3.193},{"r":"C","T":329.5,"v":3.191},{"r":"C","T":330.0,"v":3.189},{"r":"C","T":330.5,"v":3.186},{"r":"C","T":331.0,"v":3.184},{"r":"C","T":331.5,"v":3.181},{"r":"C","T":332.0,"v":3.178},{"r":"C","T":332.5,"v":3.175},{"r":"C","T":333.0,"v":3.172},{"r":"C","T":333.5,"v":3.169},{"r":"C","T":334.0,"v":3.166},{"r":"C","T":334.5,"v":3.163},{"r":"C","T":335.0,"v":3.161},{"r":"C","T":335.5,"v":3.158},{"r":"C","T":336.0,"v":3.156},{"r":"C","T":336.5,"v":3.154},{"r":"C","T":337.0,"v":3.152},{"r":"C","T":337.5,"v":3.15},{"r":"C","T":338.0,"v":3.149},{"r":"C","T":338.5,"v":3.148},{"r":"C","T":339.0,"v":3.147},{"r":"C","T":339.5,"v":3.146},{"r":"C","T":340.0,"v":3.145},{"r":"C","T":340.5,"v":3.144},{"r":"C","T":341.0,"v":3.144},{"r":"C","T":341.5,"v":3.143},{"r":"C","T":342.0,"v":3.143},{"r":"C","T":342.5,"v":3.142},{"r":"C","T":343.0,"v":3.142},{"r":"C","T":343.5,"v":3.142},{"r":"C","T":344.0,"v":3.142},{"r":"C","T":344.5,"v":3.142},{"r":"C","T":345.0,"v":3.142},{"r":"C","T":345.5,"v":3.142},{"r":"C","T":346.0,"v":3.142},{"r":"C","T":346.5,"v":3.142},{"r":"C","T":347.0,"v":3.142},
{"r":"x","T":287.4,"v":3.27},{"r":"x","T":287.9,"v":3.2515},{"r":"x","T":287.9,"v":3.249},{"r":"x","T":288.5,"v":3.2425},{"r":"x","T":286.9,"v":3.2392},{"r":"x","T":288.0,"v":3.236},{"r":"x","T":287.8,"v":3.23},{"r":"x","T":294.9,"v":3.2208},{"r":"x","T":294.4,"v":3.1887},{"r":"x","T":294.0,"v":3.2002}
],
"lab":[
{"p":"top","k":"r","T":287.6,"v":3.589,"t":"gel"},{"p":"top","k":"r","T":280.0,"v":3.5105,"t":"sol"},{"p":"top","k":"r","T":304.4,"v":3.543,"t":"AG"},{"p":"top","k":"r","T":319.5,"v":3.5185,"t":"RG"},{"p":"top","k":"r","T":342.4,"v":3.499,"t":"gel"},{"p":"top","k":"phi","T":327.8,"v":3.5403,"t":"φ"},{"p":"top","k":"eq","T":329.9,"v":3.5403,"t":"= 0.535"},
{"p":"mid","k":"r","T":299.5,"v":3.506,"t":"AG"},{"p":"mid","k":"r","T":316.9,"v":3.5056,"t":"RG"},{"p":"mid","k":"phi","T":327.0,"v":3.5873,"t":"φ"},{"p":"mid","k":"eq","T":328.8,"v":3.5873,"t":"= 0.544"},
{"p":"bot","k":"r","T":309.5,"v":3.1633,"t":"RG"},{"p":"bot","k":"phi","T":329.6,"v":3.2656,"t":"φ"},{"p":"bot","k":"eq","T":331.1,"v":3.2656,"t":"= 0.55"}
],
"rules":[
{"p":"top","T":291.8,"T2":291.8,"v":3.4099,"v2":3.598},{"p":"top","T":311.8,"T2":311.8,"v":3.4099,"v2":3.598},{"p":"top","T":336.7,"T2":336.7,"v":3.4105,"v2":3.5073},
{"p":"mid","T":307.9,"T2":307.9,"v":3.4207,"v2":3.567},
{"p":"bot","T":280.4,"T2":336.45,"v":3.1444,"v2":3.1444},{"p":"bot","T":280.4,"T2":280.4,"v":3.1287,"v2":3.1605},{"p":"bot","T":336.45,"T2":336.45,"v":3.1287,"v2":3.1605},{"p":"bot","T":280.4,"T2":283.6,"v":3.1444,"v2":3.1485},{"p":"bot","T":280.4,"T2":283.6,"v":3.1444,"v2":3.14},{"p":"bot","T":336.45,"T2":333.2,"v":3.1444,"v2":3.1485},{"p":"bot","T":336.45,"T2":333.2,"v":3.1444,"v2":3.14}
]
},
"vconcat":[
{
"width":482,"height":259,
"resolve":{"axis":{"y":"independent"}},
"layer":[
{"data":{"name":"top"},
 "mark":{"type":"point","shape":"circle","filled":true,"size":42,"stroke":"#222","strokeWidth":1,"opacity":1},
 "encoding":{
  "x":{"field":"T","type":"quantitative","scale":{"domain":[272.95,347.3],"nice":false,"zero":false},"axis":{"orient":"bottom","tickCount":75,"labels":false,"title":null,"tickSize":{"condition":{"test":"datum.value % 10 === 0","value":-9},"value":-5}}},
  "y":{"field":"v","type":"quantitative","scale":{"domain":[3.401,3.61],"nice":false,"zero":false},"axis":{"orient":"left","tickCount":21,"title":null,"labels":false,"tickSize":5}},
  "fill":{"field":"s","type":"nominal","scale":{"domain":["c","h"],"range":["transparent","black"]},"legend":{"orient":"none","legendX":312.5,"legendY":25,"title":null,"padding":0,"labelExpr":"datum.label == 'c' ? 'cooling sample' : 'heating sample'","labelFont":"Liberation Sans","labelFontSize":15,"labelColor":"#222","symbolType":"circle","symbolSize":45,"symbolStrokeColor":"#333","symbolStrokeWidth":1,"labelOffset":18,"rowPadding":5}}
 }},
{"data":{"name":"lab"},"transform":[{"filter":"datum.p=='top' && datum.k=='r'"}],
 "mark":{"type":"text","font":"Liberation Serif","fontWeight":"bold","fontSize":23,"align":"center","baseline":"middle","color":"black"},
 "encoding":{
  "x":{"field":"T","type":"quantitative","scale":{"domain":[272.95,347.3],"nice":false,"zero":false},"axis":{"orient":"top","tickCount":75,"labels":false,"title":null,"tickSize":{"condition":{"test":"datum.value % 10 === 0","value":-9},"value":-5}}},
  "y":{"field":"v","type":"quantitative","scale":{"domain":[3.401,3.61],"nice":false,"zero":false},"axis":{"orient":"left","values":[3.5,3.6],"format":".1f","title":null,"tickSize":8,"labelPadding":1,"labelFontSize":18}},
  "text":{"field":"t"}}},
{"data":{"name":"lab"},"transform":[{"filter":"datum.p=='top' && datum.k=='phi'"}],
 "mark":{"type":"text","font":"Liberation Serif","fontWeight":"bold","fontStyle":"italic","fontSize":20,"align":"center","baseline":"middle","color":"black"},
 "encoding":{"x":{"field":"T","type":"quantitative","axis":null},"y":{"field":"v","type":"quantitative","axis":null},"text":{"field":"t"}}},
{"data":{"name":"lab"},"transform":[{"filter":"datum.p=='top' && datum.k=='eq'"}],
 "mark":{"type":"text","font":"Liberation Serif","fontWeight":"bold","fontSize":20,"align":"left","baseline":"middle","color":"black"},
 "encoding":{"x":{"field":"T","type":"quantitative","axis":null},"y":{"field":"v","type":"quantitative","axis":null},"text":{"field":"t"}}},
{"data":{"name":"rules"},"transform":[{"filter":"datum.p=='top'"}],
 "mark":{"type":"rule","color":"#444","strokeWidth":1},
 "encoding":{"x":{"field":"T","type":"quantitative","axis":null},"x2":{"field":"T2"},"y":{"field":"v","type":"quantitative","axis":null},"y2":{"field":"v2"}}}
]
},
{
"width":482,"height":244,
"resolve":{"axis":{"y":"independent"}},
"layer":[
{"data":{"name":"mid"},"transform":[{"filter":"datum.s=='c'"}],
 "mark":{"type":"point","shape":"circle","filled":false,"size":36,"stroke":"#222","strokeWidth":1.1,"opacity":1},
 "encoding":{
  "x":{"field":"T","type":"quantitative","scale":{"domain":[272.95,347.3],"nice":false,"zero":false},"axis":{"orient":"bottom","tickCount":75,"labels":false,"title":null,"tickSize":{"condition":{"test":"datum.value % 10 === 0","value":-9},"value":-5}}},
  "y":{"field":"v","type":"quantitative","scale":{"domain":[3.4137,3.6105],"nice":false,"zero":false},"axis":{"orient":"left","tickCount":20,"title":null,"labels":false,"tickSize":5}}
 }},
{"data":{"name":"mid"},"transform":[{"filter":"datum.s=='h'"}],
 "mark":{"type":"point","shape":"circle","filled":true,"size":40,"fill":"black","stroke":"black","strokeWidth":1,"opacity":1},
 "encoding":{
  "x":{"field":"T","type":"quantitative","scale":{"domain":[272.95,347.3],"nice":false,"zero":false},"axis":{"orient":"top","tickCount":75,"labels":false,"title":null,"tickSize":{"condition":{"test":"datum.value % 10 === 0","value":-9},"value":-5}}},
  "y":{"field":"v","type":"quantitative","scale":{"domain":[3.4137,3.6105],"nice":false,"zero":false},"axis":{"orient":"left","values":[3.5,3.6],"format":".1f","tickSize":8,"labelPadding":1,"labelFontSize":18,"title":"Cₚ (J/gK) (L64/D₂O )","titleFontSize":28,"titlePadding":36}}
 }},
{"data":{"name":"lab"},"transform":[{"filter":"datum.p=='mid' && datum.k=='r'"}],
 "mark":{"type":"text","font":"Liberation Serif","fontWeight":"bold","fontSize":23,"align":"center","baseline":"middle","color":"black"},
 "encoding":{"x":{"field":"T","type":"quantitative","axis":null},"y":{"field":"v","type":"quantitative","axis":null},"text":{"field":"t"}}},
{"data":{"name":"lab"},"transform":[{"filter":"datum.p=='mid' && datum.k=='phi'"}],
 "mark":{"type":"text","font":"Liberation Serif","fontWeight":"bold","fontStyle":"italic","fontSize":20,"align":"center","baseline":"middle","color":"black"},
 "encoding":{"x":{"field":"T","type":"quantitative","axis":null},"y":{"field":"v","type":"quantitative","axis":null},"text":{"field":"t"}}},
{"data":{"name":"lab"},"transform":[{"filter":"datum.p=='mid' && datum.k=='eq'"}],
 "mark":{"type":"text","font":"Liberation Serif","fontWeight":"bold","fontSize":20,"align":"left","baseline":"middle","color":"black"},
 "encoding":{"x":{"field":"T","type":"quantitative","axis":null},"y":{"field":"v","type":"quantitative","axis":null},"text":{"field":"t"}}},
{"data":{"name":"rules"},"transform":[{"filter":"datum.p=='mid'"}],
 "mark":{"type":"rule","color":"#444","strokeWidth":1},
 "encoding":{"x":{"field":"T","type":"quantitative","axis":null},"x2":{"field":"T2"},"y":{"field":"v","type":"quantitative","axis":null},"y2":{"field":"v2"}}}
]
},
{
"width":482,"height":260,
"resolve":{"axis":{"y":"independent"}},
"layer":[
{"data":{"name":"bot"},
 "mark":{"type":"point","shape":"square","filled":false,"size":36,"stroke":"#333","strokeWidth":0.9,"opacity":1},
 "encoding":{
  "x":{"field":"T","type":"quantitative","scale":{"domain":[272.95,347.3],"nice":false,"zero":false},"axis":{"orient":"bottom","tickCount":75,"title":"T (K)","titleFontSize":27,"titlePadding":9,"labelPadding":20,"labelFontSize":18,"labelExpr":"datum.value % 10 === 0 ? datum.label : ''","tickSize":{"condition":{"test":"datum.value % 10 === 0","value":-9},"value":-5}}},
  "y":{"field":"v","type":"quantitative","scale":{"domain":[3.1,3.3],"nice":false,"zero":false},"axis":{"orient":"left","tickCount":20,"title":null,"labels":false,"tickSize":5}}
 }},
{"data":{"name":"lab"},"transform":[{"filter":"datum.p=='bot' && datum.k=='r'"}],
 "mark":{"type":"text","font":"Liberation Serif","fontWeight":"bold","fontSize":23,"align":"center","baseline":"middle","color":"black"},
 "encoding":{
  "x":{"field":"T","type":"quantitative","scale":{"domain":[272.95,347.3],"nice":false,"zero":false},"axis":{"orient":"top","tickCount":75,"labels":false,"title":null,"tickSize":{"condition":{"test":"datum.value % 10 === 0","value":-9},"value":-5}}},
  "y":{"field":"v","type":"quantitative","scale":{"domain":[3.1,3.3],"nice":false,"zero":false},"axis":{"orient":"left","values":[3.1,3.2,3.3],"format":".1f","title":null,"tickSize":8,"labelPadding":1,"labelFontSize":18}},
  "text":{"field":"t"}}},
{"data":{"name":"lab"},"transform":[{"filter":"datum.p=='bot' && datum.k=='phi'"}],
 "mark":{"type":"text","font":"Liberation Serif","fontWeight":"bold","fontStyle":"italic","fontSize":20,"align":"center","baseline":"middle","color":"black"},
 "encoding":{"x":{"field":"T","type":"quantitative","axis":null},"y":{"field":"v","type":"quantitative","axis":null},"text":{"field":"t"}}},
{"data":{"name":"lab"},"transform":[{"filter":"datum.p=='bot' && datum.k=='eq'"}],
 "mark":{"type":"text","font":"Liberation Serif","fontWeight":"bold","fontSize":20,"align":"left","baseline":"middle","color":"black"},
 "encoding":{"x":{"field":"T","type":"quantitative","axis":null},"y":{"field":"v","type":"quantitative","axis":null},"text":{"field":"t"}}},
{"data":{"name":"rules"},"transform":[{"filter":"datum.p=='bot'"}],
 "mark":{"type":"rule","color":"#444","strokeWidth":1},
 "encoding":{"x":{"field":"T","type":"quantitative","axis":null},"x2":{"field":"T2"},"y":{"field":"v","type":"quantitative","axis":null},"y2":{"field":"v2"}}}
]
}
]
}
